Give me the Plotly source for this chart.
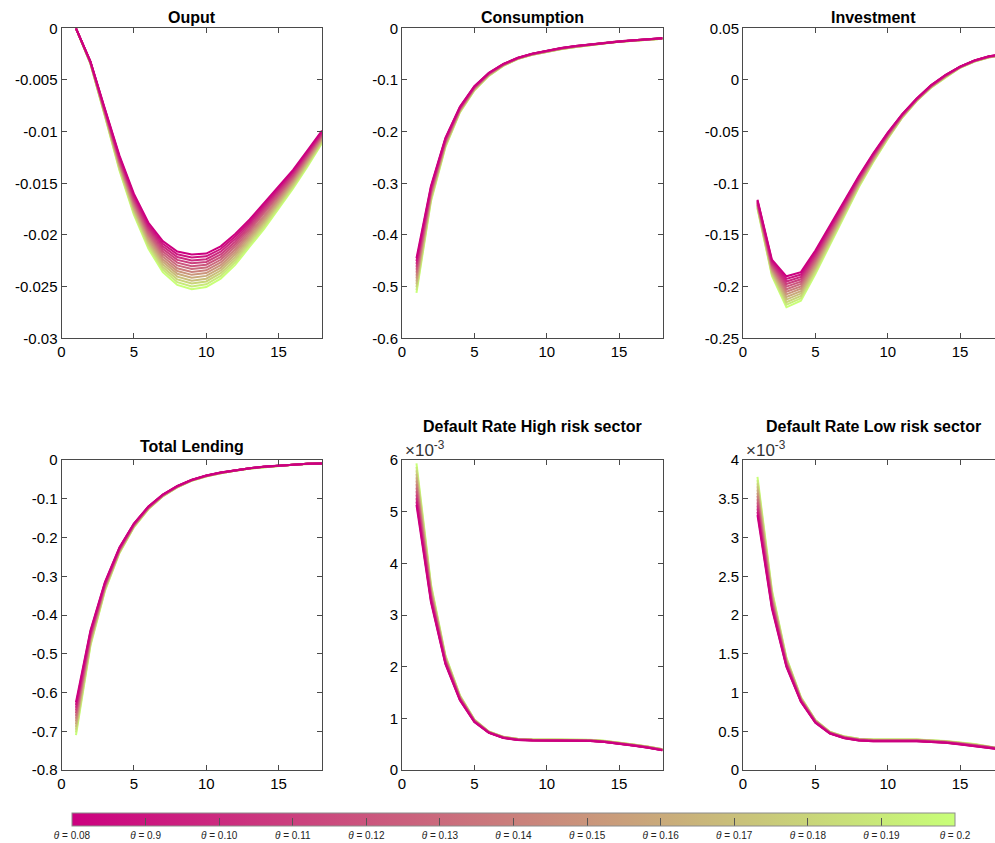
import plotly.graph_objects as go
import plotly.colors as pc

# ---------------- data ----------------
periods = [1, 2, 3, 4, 5, 6, 7, 8, 9, 10, 11, 12, 13, 14, 15, 16, 17, 18]

theta_labels = ["0.08", "0.9", "0.10", "0.11", "0.12", "0.13", "0.14",
                "0.15", "0.16", "0.17", "0.18", "0.19", "0.2"]

# one row per theta (0.08 ... 0.2)
output_irf = [
    [0, -0.0032, -0.0078, -0.0123, -0.016, -0.0188, -0.0206, -0.0216, -0.0219, -0.0218, -0.0211, -0.0199, -0.0185, -0.0169, -0.0153, -0.0137, -0.0118, -0.0099],
    [0, -0.00322, -0.00786, -0.01242, -0.01617, -0.01901, -0.02085, -0.02187, -0.02218, -0.02207, -0.02136, -0.02015, -0.01872, -0.01711, -0.01548, -0.01385, -0.01193, -0.0100],
    [0, -0.00324, -0.00792, -0.01254, -0.01634, -0.01922, -0.0211, -0.02214, -0.02246, -0.02234, -0.02162, -0.0204, -0.01894, -0.01732, -0.01566, -0.0140, -0.01206, -0.0101],
    [0, -0.00326, -0.00798, -0.01266, -0.01651, -0.01943, -0.02135, -0.02241, -0.02274, -0.02261, -0.02188, -0.02065, -0.01916, -0.01753, -0.01584, -0.01415, -0.01219, -0.0102],
    [0, -0.00328, -0.00804, -0.01278, -0.01668, -0.01964, -0.0216, -0.02268, -0.02302, -0.02288, -0.02214, -0.0209, -0.01938, -0.01774, -0.01602, -0.0143, -0.01232, -0.0103],
    [0, -0.0033, -0.0081, -0.0129, -0.01685, -0.01985, -0.02185, -0.02295, -0.0233, -0.02315, -0.0224, -0.02115, -0.0196, -0.01795, -0.0162, -0.01445, -0.01245, -0.0104],
    [0, -0.00332, -0.00816, -0.01302, -0.01702, -0.02006, -0.0221, -0.02322, -0.02358, -0.02342, -0.02266, -0.0214, -0.01982, -0.01816, -0.01638, -0.0146, -0.01258, -0.0105],
    [0, -0.00334, -0.00822, -0.01314, -0.01719, -0.02027, -0.02235, -0.02349, -0.02386, -0.02369, -0.02292, -0.02165, -0.02004, -0.01837, -0.01656, -0.01475, -0.01271, -0.0106],
    [0, -0.00336, -0.00828, -0.01326, -0.01736, -0.02048, -0.0226, -0.02376, -0.02414, -0.02396, -0.02318, -0.0219, -0.02026, -0.01858, -0.01674, -0.0149, -0.01284, -0.0107],
    [0, -0.00338, -0.00834, -0.01338, -0.01753, -0.02069, -0.02285, -0.02403, -0.02442, -0.02423, -0.02344, -0.02215, -0.02048, -0.01879, -0.01692, -0.01505, -0.01297, -0.0108],
    [0, -0.0034, -0.0084, -0.0135, -0.0177, -0.0209, -0.0231, -0.0243, -0.0247, -0.0245, -0.0237, -0.0224, -0.0207, -0.0190, -0.0171, -0.0152, -0.0131, -0.0109],
    [0, -0.00342, -0.00846, -0.01362, -0.01787, -0.02111, -0.02335, -0.02457, -0.02498, -0.02477, -0.02396, -0.02265, -0.02092, -0.01921, -0.01728, -0.01535, -0.01323, -0.0110],
    [0, -0.00344, -0.00852, -0.01374, -0.01804, -0.02132, -0.0236, -0.02484, -0.02526, -0.02504, -0.02422, -0.0229, -0.02114, -0.01942, -0.01746, -0.0155, -0.01336, -0.0111],
]

consumption_irf = [
    [-0.445, -0.305, -0.212, -0.152, -0.112, -0.086, -0.069, -0.057, -0.049, -0.043, -0.038, -0.034, -0.031, -0.028, -0.025, -0.023, -0.021, -0.019],
    [-0.4506, -0.3075, -0.2135, -0.1529, -0.1127, -0.0865, -0.0693, -0.0572, -0.0492, -0.0432, -0.0382, -0.0342, -0.0311, -0.0281, -0.0251, -0.0231, -0.0211, -0.0191],
    [-0.4562, -0.3100, -0.2150, -0.1538, -0.1134, -0.0870, -0.0696, -0.0574, -0.0494, -0.0434, -0.0384, -0.0344, -0.0312, -0.0282, -0.0252, -0.0232, -0.0212, -0.0192],
    [-0.4618, -0.3125, -0.2165, -0.1547, -0.1141, -0.0875, -0.0699, -0.0576, -0.0496, -0.0436, -0.0386, -0.0346, -0.0313, -0.0283, -0.0253, -0.0233, -0.0213, -0.0193],
    [-0.4674, -0.3150, -0.2180, -0.1556, -0.1148, -0.0880, -0.0702, -0.0578, -0.0498, -0.0438, -0.0388, -0.0348, -0.0314, -0.0284, -0.0254, -0.0234, -0.0214, -0.0194],
    [-0.4730, -0.3175, -0.2195, -0.1565, -0.1155, -0.0885, -0.0705, -0.0580, -0.0500, -0.0440, -0.0390, -0.0350, -0.0315, -0.0285, -0.0255, -0.0235, -0.0215, -0.0195],
    [-0.4786, -0.3200, -0.2210, -0.1574, -0.1162, -0.0890, -0.0708, -0.0582, -0.0502, -0.0442, -0.0392, -0.0352, -0.0316, -0.0286, -0.0256, -0.0236, -0.0216, -0.0196],
    [-0.4842, -0.3225, -0.2225, -0.1583, -0.1169, -0.0895, -0.0711, -0.0584, -0.0504, -0.0444, -0.0394, -0.0354, -0.0317, -0.0287, -0.0257, -0.0237, -0.0217, -0.0197],
    [-0.4898, -0.3250, -0.2240, -0.1592, -0.1176, -0.0900, -0.0714, -0.0586, -0.0506, -0.0446, -0.0396, -0.0356, -0.0318, -0.0288, -0.0258, -0.0238, -0.0218, -0.0198],
    [-0.4954, -0.3275, -0.2255, -0.1601, -0.1183, -0.0905, -0.0717, -0.0588, -0.0508, -0.0448, -0.0398, -0.0358, -0.0319, -0.0289, -0.0259, -0.0239, -0.0219, -0.0199],
    [-0.5010, -0.3300, -0.2270, -0.1610, -0.1190, -0.0910, -0.0720, -0.0590, -0.0510, -0.0450, -0.0400, -0.0360, -0.0320, -0.0290, -0.0260, -0.0240, -0.0220, -0.0200],
    [-0.5066, -0.3325, -0.2285, -0.1619, -0.1197, -0.0915, -0.0723, -0.0592, -0.0512, -0.0452, -0.0402, -0.0362, -0.0321, -0.0291, -0.0261, -0.0241, -0.0221, -0.0201],
    [-0.5122, -0.3350, -0.2300, -0.1628, -0.1204, -0.0920, -0.0726, -0.0594, -0.0514, -0.0454, -0.0404, -0.0364, -0.0322, -0.0292, -0.0262, -0.0242, -0.0222, -0.0202],
]

investment_irf = [
    [-0.1160, -0.1740, -0.1900, -0.1860, -0.1650, -0.1410, -0.1170, -0.0930, -0.0710, -0.0510, -0.0330, -0.0180, -0.0050, 0.0050, 0.0130, 0.0190, 0.0230, 0.0250],
    [-0.1167, -0.1753, -0.1925, -0.1883, -0.1669, -0.1426, -0.1182, -0.0939, -0.0717, -0.0515, -0.0333, -0.0182, -0.0052, 0.0048, 0.0129, 0.0189, 0.0229, 0.0249],
    [-0.1174, -0.1766, -0.1950, -0.1906, -0.1688, -0.1442, -0.1194, -0.0948, -0.0724, -0.0520, -0.0336, -0.0184, -0.0054, 0.0046, 0.0128, 0.0188, 0.0228, 0.0248],
    [-0.1181, -0.1779, -0.1975, -0.1929, -0.1707, -0.1458, -0.1206, -0.0957, -0.0731, -0.0525, -0.0339, -0.0186, -0.0056, 0.0044, 0.0127, 0.0187, 0.0227, 0.0247],
    [-0.1188, -0.1792, -0.2000, -0.1952, -0.1726, -0.1474, -0.1218, -0.0966, -0.0738, -0.0530, -0.0342, -0.0188, -0.0058, 0.0042, 0.0126, 0.0186, 0.0226, 0.0246],
    [-0.1195, -0.1805, -0.2025, -0.1975, -0.1745, -0.1490, -0.1230, -0.0975, -0.0745, -0.0535, -0.0345, -0.0190, -0.0060, 0.0040, 0.0125, 0.0185, 0.0225, 0.0245],
    [-0.1202, -0.1818, -0.2050, -0.1998, -0.1764, -0.1506, -0.1242, -0.0984, -0.0752, -0.0540, -0.0348, -0.0192, -0.0062, 0.0038, 0.0124, 0.0184, 0.0224, 0.0244],
    [-0.1209, -0.1831, -0.2075, -0.2021, -0.1783, -0.1522, -0.1254, -0.0993, -0.0759, -0.0545, -0.0351, -0.0194, -0.0064, 0.0036, 0.0123, 0.0183, 0.0223, 0.0243],
    [-0.1216, -0.1844, -0.2100, -0.2044, -0.1802, -0.1538, -0.1266, -0.1002, -0.0766, -0.0550, -0.0354, -0.0196, -0.0066, 0.0034, 0.0122, 0.0182, 0.0222, 0.0242],
    [-0.1223, -0.1857, -0.2125, -0.2067, -0.1821, -0.1554, -0.1278, -0.1011, -0.0773, -0.0555, -0.0357, -0.0198, -0.0068, 0.0032, 0.0121, 0.0181, 0.0221, 0.0241],
    [-0.1230, -0.1870, -0.2150, -0.2090, -0.1840, -0.1570, -0.1290, -0.1020, -0.0780, -0.0560, -0.0360, -0.0200, -0.0070, 0.0030, 0.0120, 0.0180, 0.0220, 0.0240],
    [-0.1237, -0.1883, -0.2175, -0.2113, -0.1859, -0.1586, -0.1302, -0.1029, -0.0787, -0.0565, -0.0363, -0.0202, -0.0072, 0.0028, 0.0119, 0.0179, 0.0219, 0.0239],
    [-0.1244, -0.1896, -0.2200, -0.2136, -0.1878, -0.1602, -0.1314, -0.1038, -0.0794, -0.0570, -0.0366, -0.0204, -0.0074, 0.0026, 0.0118, 0.0178, 0.0218, 0.0238],
]

lending_irf = [
    [-0.6250, -0.4400, -0.3150, -0.2260, -0.1640, -0.1200, -0.0890, -0.0670, -0.0510, -0.0400, -0.0320, -0.0260, -0.0210, -0.0170, -0.0140, -0.0120, -0.0100, -0.0090],
    [-0.6321, -0.4433, -0.3169, -0.2272, -0.1648, -0.1206, -0.0894, -0.0673, -0.0512, -0.0402, -0.0322, -0.0261, -0.0211, -0.0171, -0.0141, -0.0120, -0.0100, -0.0090],
    [-0.6392, -0.4466, -0.3188, -0.2284, -0.1656, -0.1212, -0.0898, -0.0676, -0.0514, -0.0404, -0.0324, -0.0262, -0.0212, -0.0172, -0.0142, -0.0120, -0.0100, -0.0090],
    [-0.6463, -0.4499, -0.3207, -0.2296, -0.1664, -0.1218, -0.0902, -0.0679, -0.0516, -0.0406, -0.0326, -0.0263, -0.0213, -0.0173, -0.0143, -0.0120, -0.0100, -0.0090],
    [-0.6534, -0.4532, -0.3226, -0.2308, -0.1672, -0.1224, -0.0906, -0.0682, -0.0518, -0.0408, -0.0328, -0.0264, -0.0214, -0.0174, -0.0144, -0.0120, -0.0100, -0.0090],
    [-0.6605, -0.4565, -0.3245, -0.2320, -0.1680, -0.1230, -0.0910, -0.0685, -0.0520, -0.0410, -0.0330, -0.0265, -0.0215, -0.0175, -0.0145, -0.0120, -0.0100, -0.0090],
    [-0.6676, -0.4598, -0.3264, -0.2332, -0.1688, -0.1236, -0.0914, -0.0688, -0.0522, -0.0412, -0.0332, -0.0266, -0.0216, -0.0176, -0.0146, -0.0120, -0.0100, -0.0090],
    [-0.6747, -0.4631, -0.3283, -0.2344, -0.1696, -0.1242, -0.0918, -0.0691, -0.0524, -0.0414, -0.0334, -0.0267, -0.0217, -0.0177, -0.0147, -0.0120, -0.0100, -0.0090],
    [-0.6818, -0.4664, -0.3302, -0.2356, -0.1704, -0.1248, -0.0922, -0.0694, -0.0526, -0.0416, -0.0336, -0.0268, -0.0218, -0.0178, -0.0148, -0.0120, -0.0100, -0.0090],
    [-0.6889, -0.4697, -0.3321, -0.2368, -0.1712, -0.1254, -0.0926, -0.0697, -0.0528, -0.0418, -0.0338, -0.0269, -0.0219, -0.0179, -0.0149, -0.0120, -0.0100, -0.0090],
    [-0.6960, -0.4730, -0.3340, -0.2380, -0.1720, -0.1260, -0.0930, -0.0700, -0.0530, -0.0420, -0.0340, -0.0270, -0.0220, -0.0180, -0.0150, -0.0120, -0.0100, -0.0090],
    [-0.7031, -0.4763, -0.3359, -0.2392, -0.1728, -0.1266, -0.0934, -0.0703, -0.0532, -0.0422, -0.0342, -0.0271, -0.0221, -0.0181, -0.0151, -0.0120, -0.0100, -0.0090],
    [-0.7102, -0.4796, -0.3378, -0.2404, -0.1736, -0.1272, -0.0938, -0.0706, -0.0534, -0.0424, -0.0344, -0.0272, -0.0222, -0.0182, -0.0152, -0.0120, -0.0100, -0.0090],
]

# default rates, in units of 10^-3
default_high_irf = [
    [5.130, 3.250, 2.050, 1.350, 0.930, 0.720, 0.620, 0.580, 0.570, 0.570, 0.570, 0.570, 0.560, 0.540, 0.510, 0.470, 0.430, 0.380],
    [5.197, 3.279, 2.064, 1.358, 0.934, 0.722, 0.622, 0.582, 0.572, 0.572, 0.572, 0.572, 0.562, 0.542, 0.512, 0.472, 0.432, 0.382],
    [5.264, 3.308, 2.078, 1.366, 0.938, 0.724, 0.624, 0.584, 0.574, 0.574, 0.574, 0.574, 0.564, 0.544, 0.514, 0.474, 0.434, 0.384],
    [5.331, 3.337, 2.092, 1.374, 0.942, 0.726, 0.626, 0.586, 0.576, 0.576, 0.576, 0.576, 0.566, 0.546, 0.516, 0.476, 0.436, 0.386],
    [5.398, 3.366, 2.106, 1.382, 0.946, 0.728, 0.628, 0.588, 0.578, 0.578, 0.578, 0.578, 0.568, 0.548, 0.518, 0.478, 0.438, 0.388],
    [5.465, 3.395, 2.120, 1.390, 0.950, 0.730, 0.630, 0.590, 0.580, 0.580, 0.580, 0.580, 0.570, 0.550, 0.520, 0.480, 0.440, 0.390],
    [5.532, 3.424, 2.134, 1.398, 0.954, 0.732, 0.632, 0.592, 0.582, 0.582, 0.582, 0.582, 0.572, 0.552, 0.522, 0.482, 0.442, 0.392],
    [5.599, 3.453, 2.148, 1.406, 0.958, 0.734, 0.634, 0.594, 0.584, 0.584, 0.584, 0.584, 0.574, 0.554, 0.524, 0.484, 0.444, 0.394],
    [5.666, 3.482, 2.162, 1.414, 0.962, 0.736, 0.636, 0.596, 0.586, 0.586, 0.586, 0.586, 0.576, 0.556, 0.526, 0.486, 0.446, 0.396],
    [5.733, 3.511, 2.176, 1.422, 0.966, 0.738, 0.638, 0.598, 0.588, 0.588, 0.588, 0.588, 0.578, 0.558, 0.528, 0.488, 0.448, 0.398],
    [5.800, 3.540, 2.190, 1.430, 0.970, 0.740, 0.640, 0.600, 0.590, 0.590, 0.590, 0.590, 0.580, 0.560, 0.530, 0.490, 0.450, 0.400],
    [5.867, 3.569, 2.204, 1.438, 0.974, 0.742, 0.642, 0.602, 0.592, 0.592, 0.592, 0.592, 0.582, 0.562, 0.532, 0.492, 0.452, 0.402],
    [5.934, 3.598, 2.218, 1.446, 0.978, 0.744, 0.644, 0.604, 0.594, 0.594, 0.594, 0.594, 0.584, 0.564, 0.534, 0.494, 0.454, 0.404],
]

default_low_irf = [
    [3.290, 2.080, 1.330, 0.880, 0.610, 0.470, 0.410, 0.380, 0.370, 0.370, 0.370, 0.370, 0.360, 0.350, 0.330, 0.310, 0.290, 0.260],
    [3.331, 2.100, 1.340, 0.885, 0.613, 0.472, 0.412, 0.382, 0.372, 0.372, 0.372, 0.372, 0.362, 0.352, 0.332, 0.312, 0.291, 0.261],
    [3.372, 2.120, 1.350, 0.890, 0.616, 0.474, 0.414, 0.384, 0.374, 0.374, 0.374, 0.374, 0.364, 0.354, 0.334, 0.314, 0.292, 0.262],
    [3.413, 2.140, 1.360, 0.895, 0.619, 0.476, 0.416, 0.386, 0.376, 0.376, 0.376, 0.376, 0.366, 0.356, 0.336, 0.316, 0.293, 0.263],
    [3.454, 2.160, 1.370, 0.900, 0.622, 0.478, 0.418, 0.388, 0.378, 0.378, 0.378, 0.378, 0.368, 0.358, 0.338, 0.318, 0.294, 0.264],
    [3.495, 2.180, 1.380, 0.905, 0.625, 0.480, 0.420, 0.390, 0.380, 0.380, 0.380, 0.380, 0.370, 0.360, 0.340, 0.320, 0.295, 0.265],
    [3.536, 2.200, 1.390, 0.910, 0.628, 0.482, 0.422, 0.392, 0.382, 0.382, 0.382, 0.382, 0.372, 0.362, 0.342, 0.322, 0.296, 0.266],
    [3.577, 2.220, 1.400, 0.915, 0.631, 0.484, 0.424, 0.394, 0.384, 0.384, 0.384, 0.384, 0.374, 0.364, 0.344, 0.324, 0.297, 0.267],
    [3.618, 2.240, 1.410, 0.920, 0.634, 0.486, 0.426, 0.396, 0.386, 0.386, 0.386, 0.386, 0.376, 0.366, 0.346, 0.326, 0.298, 0.268],
    [3.659, 2.260, 1.420, 0.925, 0.637, 0.488, 0.428, 0.398, 0.388, 0.388, 0.388, 0.388, 0.378, 0.368, 0.348, 0.328, 0.299, 0.269],
    [3.700, 2.280, 1.430, 0.930, 0.640, 0.490, 0.430, 0.400, 0.390, 0.390, 0.390, 0.390, 0.380, 0.370, 0.350, 0.330, 0.300, 0.270],
    [3.741, 2.300, 1.440, 0.935, 0.643, 0.492, 0.432, 0.402, 0.392, 0.392, 0.392, 0.392, 0.382, 0.372, 0.352, 0.332, 0.301, 0.271],
    [3.782, 2.320, 1.450, 0.940, 0.646, 0.494, 0.434, 0.404, 0.394, 0.394, 0.394, 0.394, 0.384, 0.374, 0.354, 0.334, 0.302, 0.272],
]

# tick labels
x_tickvals = [0, 5, 10, 15]
x_ticktext = ["0", "5", "10", "15"]
output_yticks = [0, -0.005, -0.01, -0.015, -0.02, -0.025, -0.03]
output_ylabels = ["0", "-0.005", "-0.01", "-0.015", "-0.02", "-0.025", "-0.03"]
consumption_yticks = [0, -0.1, -0.2, -0.3, -0.4, -0.5, -0.6]
consumption_ylabels = ["0", "-0.1", "-0.2", "-0.3", "-0.4", "-0.5", "-0.6"]
investment_yticks = [0.05, 0, -0.05, -0.1, -0.15, -0.2, -0.25]
investment_ylabels = ["0.05", "0", "-0.05", "-0.1", "-0.15", "-0.2", "-0.25"]
lending_yticks = [0, -0.1, -0.2, -0.3, -0.4, -0.5, -0.6, -0.7, -0.8]
lending_ylabels = ["0", "-0.1", "-0.2", "-0.3", "-0.4", "-0.5", "-0.6", "-0.7", "-0.8"]
dhigh_yticks = [0, 1, 2, 3, 4, 5, 6]
dhigh_ylabels = ["0", "1", "2", "3", "4", "5", "6"]
dlow_yticks = [0, 0.5, 1, 1.5, 2, 2.5, 3, 3.5, 4]
dlow_ylabels = ["0", "0.5", "1", "1.5", "2", "2.5", "3", "3.5", "4"]

# ---------------- styling ----------------
W, H = 995, 843
FONT = "Liberation Sans, Arial, Helvetica, sans-serif"
AXC = "#4a4a4a"
c_lo, c_hi = "rgb(204,0,128)", "rgb(200,255,120)"
scale = [[0.0, c_lo], [1.0, c_hi]]
n_theta = len(theta_labels)
line_colors = pc.sample_colorscale(scale, [k / (n_theta - 1) for k in range(n_theta)])

def px_x(p):
    return p / W

def px_y(p):
    return 1 - p / H

col_dom = [(61.5, 322.0), (402.0, 662.5), (743.0, 995.0)]
row_dom = [(28.3, 338.3), (460.0, 770.0)]
unit_px = (322.0 - 61.5) / 18.0
x_ranges = [[0, 18], [0, 18], [0, (995.0 - 743.0) / unit_px]]

panels = [
    ("Ouput", output_irf, [-0.03, 0], output_yticks, output_ylabels, False),
    ("Consumption", consumption_irf, [-0.6, 0], consumption_yticks, consumption_ylabels, False),
    ("Investment", investment_irf, [-0.25, 0.05], investment_yticks, investment_ylabels, False),
    ("Total Lending", lending_irf, [-0.8, 0], lending_yticks, lending_ylabels, False),
    ("Default Rate High risk sector", default_high_irf, [0, 6], dhigh_yticks, dhigh_ylabels, True),
    ("Default Rate Low risk sector", default_low_irf, [0, 4], dlow_yticks, dlow_ylabels, True),
]

fig = go.Figure()
layout = dict(
    width=W, height=H,
    margin=dict(l=0, r=0, t=0, b=0, autoexpand=False),
    paper_bgcolor="white", plot_bgcolor="white",
    showlegend=False,
    font=dict(family=FONT, size=15, color="black"),
)
annotations = []

for i, (title, series, yr, ytv, ytt, expo) in enumerate(panels):
    r, c = divmod(i, 3)
    n = i + 1
    xa = "x" if n == 1 else f"x{n}"
    ya = "y" if n == 1 else f"y{n}"
    for k in reversed(range(n_theta)):
        fig.add_trace(go.Scatter(
            x=periods, y=series[k], mode="lines",
            line=dict(color=line_colors[k], width=2),
            xaxis=xa, yaxis=ya, hoverinfo="skip", showlegend=False,
        ))
    x0, x1 = col_dom[c]
    y0, y1 = row_dom[r]
    axis_common = dict(
        showline=True, linecolor=AXC, linewidth=1,
        ticks="inside", ticklen=5, tickcolor=AXC, tickwidth=1,
        showgrid=False, zeroline=False,
        tickfont=dict(family=FONT, size=15, color="black"),
    )
    layout["xaxis" if n == 1 else f"xaxis{n}"] = dict(
        axis_common, domain=[px_x(x0), px_x(x1)], range=x_ranges[c],
        anchor=ya, tickvals=x_tickvals, ticktext=x_ticktext, mirror="ticks",
    )
    layout["yaxis" if n == 1 else f"yaxis{n}"] = dict(
        axis_common, domain=[px_y(y1), px_y(y0)], range=yr,
        anchor=xa, tickvals=ytv, ticktext=ytt,
        mirror=("ticks" if c < 2 else False),
    )
    full_right = x0 + 18 * unit_px
    cx = (x0 + full_right) / 2
    if r == 0:
        ty = 17
    elif expo:
        ty = 426
    else:
        ty = 447
    annotations.append(dict(
        text=f"<b>{title}</b>", x=px_x(cx), y=px_y(ty), xref="paper", yref="paper",
        xanchor="center", yanchor="middle", showarrow=False,
        font=dict(family=FONT, size=16, color="black"),
    ))
    if expo:
        annotations.append(dict(
            text="×10<sup>-3</sup>", x=px_x(x0 + 1), y=px_y(449), xref="paper", yref="paper",
            xanchor="left", yanchor="middle", showarrow=False,
            font=dict(family=FONT, size=17, color="#333333"),
        ))

# colorbar
cb_left, cb_right, cb_top = 72.0, 955.0, 813.0
fig.add_trace(go.Scatter(
    x=[None], y=[None], mode="markers", xaxis="x", yaxis="y",
    hoverinfo="skip", showlegend=False,
    marker=dict(
        color=[0], cmin=0, cmax=n_theta - 1, colorscale=scale, showscale=True,
        colorbar=dict(
            orientation="h",
            x=px_x((cb_left + cb_right) / 2), xanchor="center",
            y=px_y(cb_top), yanchor="top",
            lenmode="pixels", len=cb_right - cb_left,
            thicknessmode="pixels", thickness=13,
            xpad=0, ypad=0,
            outlinewidth=1, outlinecolor="#8c8c8c",
            tickvals=list(range(n_theta)),
            ticktext=[f"<i>θ</i> = {t}" for t in theta_labels],
            ticks="inside", ticklen=8, tickcolor="#555555", tickwidth=1,
            tickfont=dict(family=FONT, size=10, color="#222222"),
        ),
    ),
))

layout["annotations"] = annotations
fig.update_layout(**layout)
fig.write_html(
    "out.html",
    config={"displayModeBar": False},
    post_script="document.body.style.margin='0';document.body.style.overflow='hidden';",
)
